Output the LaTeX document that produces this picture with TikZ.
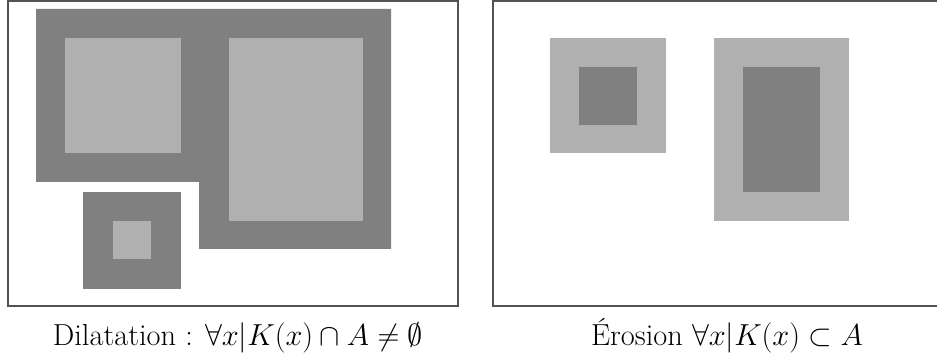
\documentclass[tikz,border=0pt]{standalone}
\usepackage{tikz}

\tikzset{
  frame/.style={draw=black!68, line width=0.9pt},
  dilat/.style={fill=black!50},
  orig/.style={fill=black!31},
  caption/.style={anchor=base, font=\fontsize{17.3}{21}\selectfont},
}

\begin{document}
\begin{tikzpicture}[x=0.02cm, y=-0.02cm]
  \clip (0,0) rectangle (937,364);
  % Left panel: dilatation.
  \draw[frame] (8,0.8) rectangle (458,306);
  \fill[dilat] (36,9) -- (391,9) -- (391,249) -- (199,249)
    -- (199,182) -- (36,182) -- cycle;
  \fill[dilat] (83,192) rectangle (181,289);
  \fill[orig] (65,38) rectangle (181,153);
  \fill[orig] (229,38) rectangle (363,221);
  \fill[orig] (113,221) rectangle (151,259);
  % Right panel: erosion.
  \draw[frame] (493,0.8) rectangle (943,306);
  \fill[orig] (550,38) rectangle (666,153);
  \fill[orig] (714,38) rectangle (849,221);
  \fill[dilat] (579,67) rectangle (637,125);
  \fill[dilat] (743,67) rectangle (820,192);
  % Captions.
  \node[caption] (dil) at (238,346)
    {Dilatation : $\forall x\big|K(x)\cap A\neq\emptyset$};
  \node[caption] (ero) at (727,346)
    {\'Erosion $\forall x\big|K(x)\subset A$};
\end{tikzpicture}
\end{document}
